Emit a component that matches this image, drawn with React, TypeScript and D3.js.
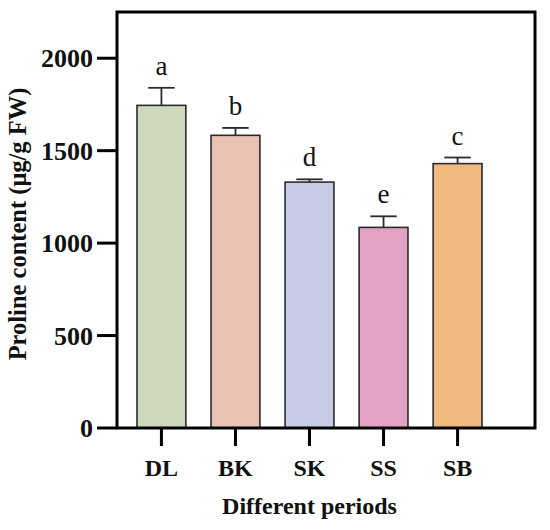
import React, { useEffect, useRef } from 'react';
import * as d3 from 'd3';

const periods = ['DL', 'BK', 'SK', 'SS', 'SB'];
const prolineMeans = [1745, 1583, 1330, 1085, 1430];
const prolineErrors = [95, 40, 15, 60, 33];
const sigLetters = ['a', 'b', 'd', 'e', 'c'];
const barColors = ['#cdd8bc', '#eac3b5', '#c8cbe6', '#e2a2c5', '#f0ba7e'];
const yTicks = [0, 500, 1000, 1500, 2000];

const App: React.FC = () => {
  const svgRef = useRef<SVGSVGElement>(null);

  useEffect(() => {
    if (!svgRef.current) return;
    const svg = d3.select(svgRef.current);
    svg.selectAll('*').remove();

    const width = 550;
    const height = 530;
    const left = 117;
    const right = 535;
    const top = 12;
    const bottom = 428;
    const font = '"Liberation Serif", "Times New Roman", serif';

    svg.attr('viewBox', `0 0 ${width} ${height}`);

    const x = d3.scaleBand<string>()
      .domain(periods)
      .range([left, 502])
      .paddingInner(0.34)
      .paddingOuter(0.27);

    const y = d3.scaleLinear().domain([0, 2250]).range([bottom, top]);

    // bars
    svg.append('g')
      .selectAll('rect')
      .data(periods)
      .join('rect')
      .attr('x', d => x(d)!)
      .attr('y', (d, i) => y(prolineMeans[i]))
      .attr('width', x.bandwidth())
      .attr('height', (d, i) => bottom - y(prolineMeans[i]))
      .attr('fill', (d, i) => barColors[i])
      .attr('stroke', '#2b2b2b')
      .attr('stroke-width', 1.6);

    // error bars (upper only)
    const capHalf = x.bandwidth() * 0.27;
    const eb = svg.append('g').attr('stroke', '#2b2b2b').attr('stroke-width', 1.8);
    periods.forEach((p, i) => {
      const cx = x(p)! + x.bandwidth() / 2;
      const yTop = y(prolineMeans[i] + prolineErrors[i]);
      eb.append('line')
        .attr('x1', cx).attr('x2', cx)
        .attr('y1', y(prolineMeans[i])).attr('y2', yTop);
      eb.append('line')
        .attr('x1', cx - capHalf).attr('x2', cx + capHalf)
        .attr('y1', yTop).attr('y2', yTop);
      svg.append('text')
        .attr('x', cx)
        .attr('y', yTop - 13)
        .attr('text-anchor', 'middle')
        .attr('font-family', font)
        .attr('font-size', 27)
        .attr('fill', '#111')
        .text(sigLetters[i]);
    });

    // frame
    svg.append('rect')
      .attr('x', left)
      .attr('y', top)
      .attr('width', right - left)
      .attr('height', bottom - top)
      .attr('fill', 'none')
      .attr('stroke', '#000')
      .attr('stroke-width', 3);

    // y ticks
    const yAxis = svg.append('g');
    yTicks.forEach(t => {
      yAxis.append('line')
        .attr('x1', left - 20).attr('x2', left)
        .attr('y1', y(t)).attr('y2', y(t))
        .attr('stroke', '#000').attr('stroke-width', 3);
      yAxis.append('text')
        .attr('x', left - 24)
        .attr('y', y(t))
        .attr('dy', '0.35em')
        .attr('text-anchor', 'end')
        .attr('font-family', font)
        .attr('font-weight', 'bold')
        .attr('font-size', 26)
        .attr('fill', '#111')
        .text(t);
    });

    // x ticks
    const xAxis = svg.append('g');
    periods.forEach(p => {
      const cx = x(p)! + x.bandwidth() / 2;
      xAxis.append('line')
        .attr('x1', cx).attr('x2', cx)
        .attr('y1', bottom).attr('y2', bottom + 18)
        .attr('stroke', '#000').attr('stroke-width', 3);
      xAxis.append('text')
        .attr('x', cx)
        .attr('y', 476)
        .attr('text-anchor', 'middle')
        .attr('font-family', font)
        .attr('font-weight', 'bold')
        .attr('font-size', 24)
        .attr('fill', '#111')
        .text(p);
    });

    // axis titles
    const midBars = (x(periods[0])! + x(periods[periods.length - 1])! + x.bandwidth()) / 2;
    svg.append('text')
      .attr('x', midBars)
      .attr('y', 514)
      .attr('text-anchor', 'middle')
      .attr('font-family', font)
      .attr('font-weight', 'bold')
      .attr('font-size', 24)
      .attr('fill', '#111')
      .text('Different periods');

    svg.append('text')
      .attr('transform', `translate(26,224) rotate(-90)`)
      .attr('text-anchor', 'middle')
      .attr('font-family', font)
      .attr('font-weight', 'bold')
      .attr('font-size', 24.5)
      .attr('fill', '#111')
      .text('Proline content (μg/g FW)');
  }, []);

  return (
    <svg
      ref={svgRef}
      width={550}
      height={530}
      style={{ position: 'absolute', left: 0, top: 0, background: '#fff' }}
    />
  );
};

export default App;
